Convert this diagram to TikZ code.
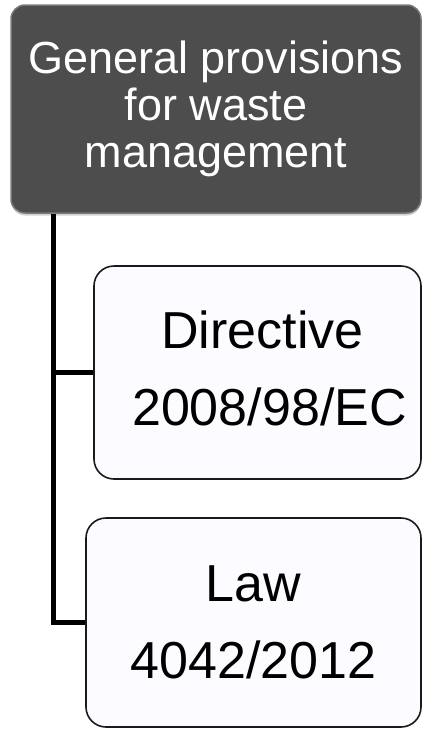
\documentclass[tikz,border=0pt]{standalone}
\usepackage{fontspec}
\setmainfont{Liberation Sans}
\usetikzlibrary{shadows}
\definecolor{topfill}{HTML}{4D4D4D}
\definecolor{topedge}{HTML}{7A7A7A}
\definecolor{subfill}{HTML}{FCFBFF}
\definecolor{subedge}{HTML}{1A1A1A}
\tikzset{
  headbox/.style={draw=topedge, fill=topfill, line width=1.5pt, rounded corners=14pt,
    inner sep=0pt, align=center, text=white,
    font=\fontsize{45}{47}\selectfont,
    drop shadow={shadow xshift=0pt, shadow yshift=-2.5pt, opacity=0.35}},
  subbox/.style={draw=subedge, fill=subfill, line width=1.6pt, rounded corners=20pt,
    inner sep=0pt, align=center, text=black,
    font=\fontsize{52}{77}\selectfont},
  conn/.style={draw=black, line width=5pt, line join=miter}
}
\begin{document}
\begin{tikzpicture}[x=1pt,y=-1pt]
\useasboundingbox (0,0) rectangle (423,729);
\node[headbox, minimum width=410pt, minimum height=208pt] (top) at (216,109)
  {General provisions\\for waste\\management};
\node[subbox, minimum width=327pt, minimum height=213pt] (b2) at (257.5,372.5)
  {\hspace*{10pt}Directive\\\hspace*{24pt}2008/98/EC\rule[-8pt]{0pt}{0pt}};
\node[subbox, minimum width=335pt, minimum height=209pt] (b3) at (253.5,622.5)
  {Law\\4042/2012};
\coordinate (spine) at (53,0);
\draw[conn] (top.south -| spine) -- (b3.west -| spine) -- (b3.west);
\draw[conn] (b2.west -| spine) -- (b2.west);
\end{tikzpicture}
\end{document}
